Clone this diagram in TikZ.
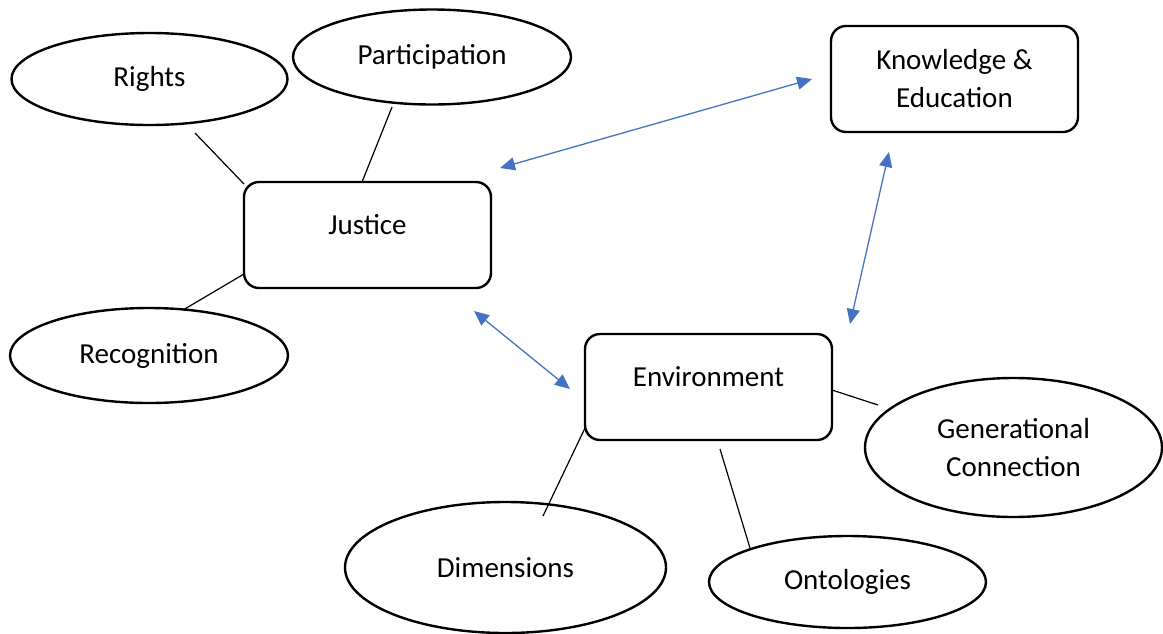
\documentclass[tikz,border=0pt]{standalone}
\usepackage{fontspec}
\setmainfont{Carlito}
\usetikzlibrary{arrows.meta,shapes.geometric}
\definecolor{linkblue}{HTML}{4472C4}
\tikzset{
  every node/.style={font=\fontsize{29}{38}\selectfont},
  bubble/.style={draw, ellipse, line width=2.4pt, inner sep=0pt},
  topic/.style={draw, rectangle, rounded corners=15pt, line width=2.4pt,
                minimum width=247pt, minimum height=106pt, inner sep=0pt},
  link/.style={line width=1.2pt},
  relation/.style={linkblue, line width=1.3pt,
                   {Triangle[length=15pt,width=13pt]}-{Triangle[length=15pt,width=13pt]}}
}
\begin{document}
\begin{tikzpicture}[x=1pt,y=-1pt]
\useasboundingbox (0,0) rectangle (1163,633);

% central topics
\node[topic, label={[yshift=10pt]center:Justice}] (justice) at (367.5,235) {};
\node[topic, align=center] (knowledge) at (954.5,79) {Knowledge \&\\Education};
\node[topic, label={[yshift=10pt]center:Environment}] (environment) at (708.5,387) {};

% surrounding ideas
\node[bubble, minimum width=276pt, minimum height=92pt] (rights) at (149.5,79) {Rights};
\node[bubble, minimum width=278pt, minimum height=95pt] (participation) at (432,57) {Participation};
\node[bubble, minimum width=278pt, minimum height=95pt] (recognition) at (149,355.5) {Recognition};
\node[bubble, minimum width=297pt, minimum height=139pt, align=center] (generational) at (1013.5,447.5) {Generational\\Connection};
\node[bubble, minimum width=321pt, minimum height=131pt] (dimensions) at (505.5,567.5) {Dimensions};
\node[bubble, minimum width=277pt, minimum height=92pt] (ontologies) at (847.5,582) {Ontologies};

% connector end points
\coordinate (r1) at (195,133);   \coordinate (r2) at (244,184);
\coordinate (p1) at (392,107);   \coordinate (p2) at (362,182);
\coordinate (c1) at (183,310);   \coordinate (c2) at (244,274);
\coordinate (d1) at (585,428);   \coordinate (d2) at (543,516);
\coordinate (o1) at (720,449);   \coordinate (o2) at (750,548);
\coordinate (g1) at (832,390);   \coordinate (g2) at (878,405);
\coordinate (jk1) at (500,168);  \coordinate (jk2) at (812,79);
\coordinate (ke1) at (889,152);  \coordinate (ke2) at (850,324);
\coordinate (je1) at (474,311);  \coordinate (je2) at (570,389);

% plain links
\draw[link] (r1) -- (r2);
\draw[link] (p1) -- (p2);
\draw[link] (c1) -- (c2);
\draw[link] (d1) -- (d2);
\draw[link] (o1) -- (o2);
\draw[link] (g1) -- (g2);

% two-way relations
\draw[relation] (jk1) -- (jk2);
\draw[relation] (ke1) -- (ke2);
\draw[relation] (je1) -- (je2);
\end{tikzpicture}
\end{document}
